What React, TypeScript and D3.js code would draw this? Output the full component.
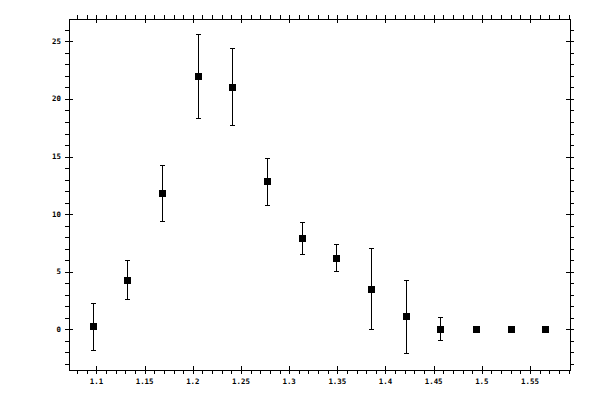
import React, { useEffect, useRef } from "react";
import * as d3 from "d3";

// measured points (x, y, lower and upper error bound)
const xValues = [1.096, 1.132, 1.168, 1.205, 1.241, 1.277, 1.313, 1.349, 1.385, 1.421, 1.457, 1.494, 1.530, 1.566];
const yValues = [0.26, 4.27, 11.85, 21.95, 21.08, 12.89, 7.93, 6.18, 3.48, 1.13, 0.0, 0.0, 0.0, 0.0];
const yLow = [-1.8, 2.61, 9.41, 18.38, 17.77, 10.8, 6.53, 5.05, 0.0, -2.09, -0.93, null, null, null];
const yHigh = [2.29, 6.01, 14.29, 25.6, 24.39, 14.86, 9.32, 7.37, 7.06, 4.27, 1.05, null, null, null];

const xTicks = [1.1, 1.15, 1.2, 1.25, 1.3, 1.35, 1.4, 1.45, 1.5, 1.55];
const xTickLabels = ["1.1", "1.15", "1.2", "1.25", "1.3", "1.35", "1.4", "1.45", "1.5", "1.55"];
const yTicks = [0, 5, 10, 15, 20, 25];
const yTickLabels = ["0", "5", "10", "15", "20", "25"];

const App: React.FC = () => {
    const svgRef = useRef<SVGSVGElement | null>(null);

    useEffect(() => {
        if (!svgRef.current) return;
        const W = 600;
        const H = 400;
        const L = 69, R = 570, T = 19, B = 370;

        const svg = d3.select(svgRef.current).attr("width", W).attr("height", H);
        svg.selectAll("*").remove();

        const x = d3.scaleLinear().domain([1.0715, 1.5915]).range([L, R]);
        const y = d3.scaleLinear().domain([-3.53, 26.94]).range([B, T]);

        svg.append("rect").attr("width", W).attr("height", H).attr("fill", "#fff");

        const g = svg.append("g").attr("stroke", "#000").attr("stroke-width", 1).attr("shape-rendering", "crispEdges");

        // ── Ticks: minor outward, major across the frame ──
        const xMinor = d3.range(108, 160).map((d) => d / 100);
        const yMinor = d3.range(-3, 27);

        xMinor.forEach((v) => {
            const px = Math.round(x(v)) + 0.5;
            g.append("line").attr("x1", px).attr("x2", px).attr("y1", B).attr("y2", B + 4);
            g.append("line").attr("x1", px).attr("x2", px).attr("y1", T).attr("y2", T - 4);
        });
        xTicks.forEach((v) => {
            const px = Math.round(x(v)) + 0.5;
            g.append("line").attr("x1", px).attr("x2", px).attr("y1", B - 4).attr("y2", B + 4);
            g.append("line").attr("x1", px).attr("x2", px).attr("y1", T - 4).attr("y2", T + 4);
        });
        yMinor.forEach((v) => {
            const py = Math.round(y(v)) + 0.5;
            g.append("line").attr("x1", L - 4).attr("x2", L).attr("y1", py).attr("y2", py);
            g.append("line").attr("x1", R).attr("x2", R + 4).attr("y1", py).attr("y2", py);
        });
        yTicks.forEach((v) => {
            const py = Math.round(y(v)) + 0.5;
            g.append("line").attr("x1", L - 4).attr("x2", L + 4).attr("y1", py).attr("y2", py);
            g.append("line").attr("x1", R - 4).attr("x2", R + 4).attr("y1", py).attr("y2", py);
        });

        g.append("rect")
            .attr("x", L + 0.5).attr("y", T + 0.5)
            .attr("width", R - L).attr("height", B - T)
            .attr("fill", "none");

        // ── Tick labels ──
        const font = "'DejaVu Sans Mono', monospace";
        svg.append("g").selectAll("text").data(xTicks).enter().append("text")
            .attr("x", (d) => x(d))
            .attr("y", 384)
            .attr("text-anchor", "middle")
            .attr("font-family", font).attr("font-size", 7.4).attr("font-weight", "bold")
            .attr("fill", "#000")
            .text((_, i) => xTickLabels[i]);

        svg.append("g").selectAll("text").data(yTicks).enter().append("text")
            .attr("x", 61)
            .attr("y", (d) => y(d) + 2.5)
            .attr("text-anchor", "end")
            .attr("font-family", font).attr("font-size", 7.4).attr("font-weight", "bold")
            .attr("fill", "#000")
            .text((_, i) => yTickLabels[i]);

        // ── Error bars ──
        const eb = svg.append("g").attr("stroke", "#000").attr("stroke-width", 1).attr("shape-rendering", "crispEdges");
        xValues.forEach((xv, i) => {
            const lo = yLow[i];
            const hi = yHigh[i];
            if (lo === null || hi === null) return;
            const px = Math.round(x(xv)) + 0.5;
            eb.append("line").attr("x1", px).attr("x2", px).attr("y1", y(lo)).attr("y2", y(hi));
            eb.append("line").attr("x1", px - 2.5).attr("x2", px + 2.5).attr("y1", Math.round(y(lo)) + 0.5).attr("y2", Math.round(y(lo)) + 0.5);
            eb.append("line").attr("x1", px - 2.5).attr("x2", px + 2.5).attr("y1", Math.round(y(hi)) + 0.5).attr("y2", Math.round(y(hi)) + 0.5);
        });

        // ── Square markers ──
        svg.append("g").selectAll("rect").data(xValues).enter().append("rect")
            .attr("x", (d) => Math.round(x(d)) - 3)
            .attr("y", (_, i) => Math.round(y(yValues[i])) - 3)
            .attr("width", 7).attr("height", 7)
            .attr("fill", "#000")
            .attr("shape-rendering", "crispEdges");
    }, []);

    return (
        <div style={{ position: "absolute", left: 0, top: 0, width: 600, height: 400 }}>
            <svg ref={svgRef} style={{ display: "block" }} />
        </div>
    );
};

export default App;
